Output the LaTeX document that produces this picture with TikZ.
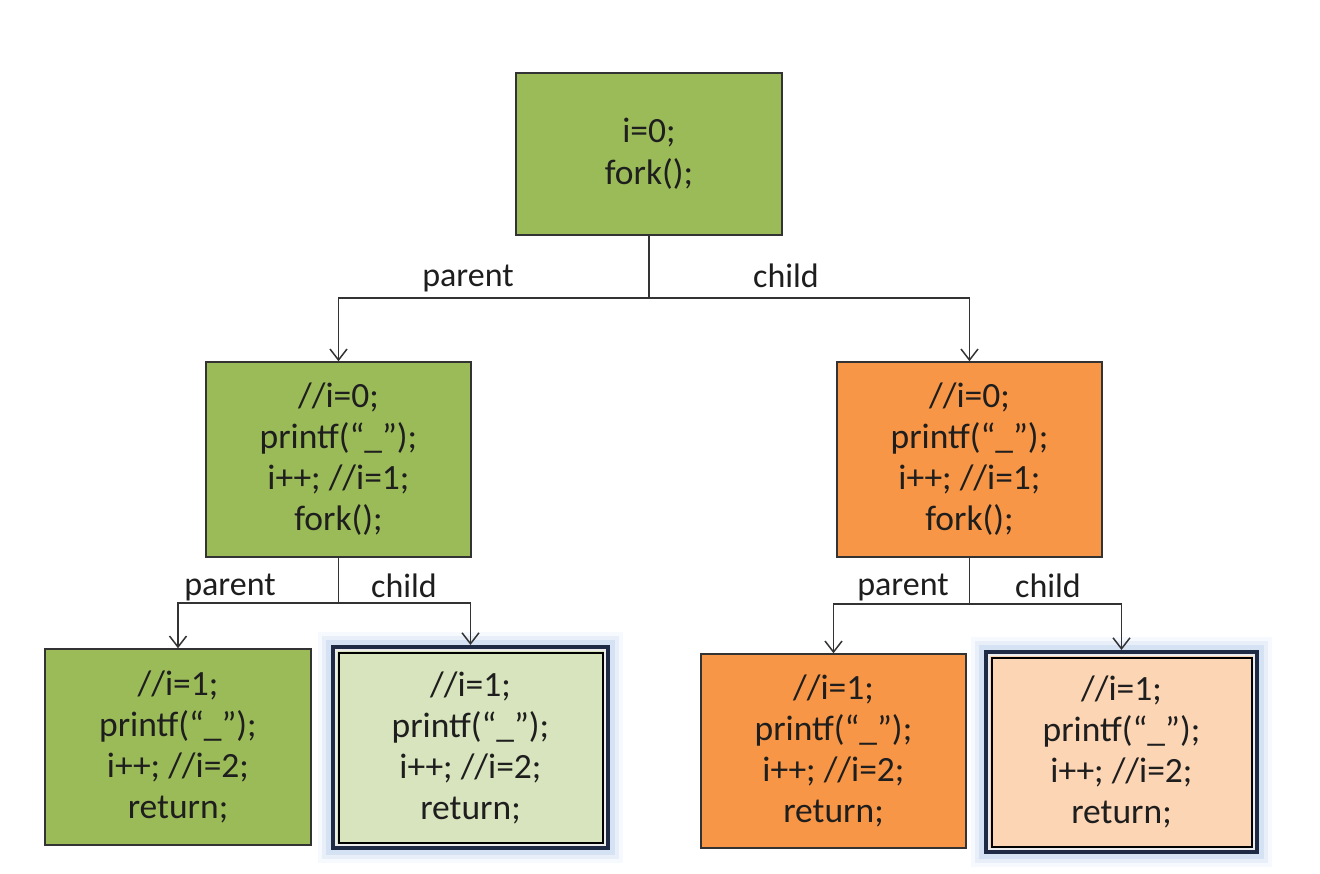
\documentclass[tikz,border=0pt]{standalone}
\usepackage{fontspec}
\setmainfont{Carlito}
\usepackage{tikz}
\usetikzlibrary{arrows.meta}
\usetikzlibrary{positioning}

\definecolor{boxgreen}{HTML}{9BBB59}
\definecolor{boxorange}{HTML}{F79646}
\definecolor{palegreen}{HTML}{D8E4BD}
\definecolor{paleorange}{HTML}{FCD5B5}
\definecolor{glowblue}{HTML}{8EB4E3}
\definecolor{navy}{HTML}{1F2A44}
\definecolor{linegray}{HTML}{333333}
\definecolor{txt}{HTML}{1E1E1E}

\begin{document}
\begin{tikzpicture}[x=1pt,y=-1pt,
  every node/.style={font=\fontsize{35.5}{41}\selectfont,text=txt},
  proc/.style={draw=linegray,line width=1.5pt,align=center,inner sep=0pt,
    minimum width=265pt,minimum height=195pt},
  leaf/.style={proc,
    preaction={draw=glowblue,line width=30pt,opacity=.08},
    preaction={draw=glowblue,line width=22pt,opacity=.14},
    preaction={draw=glowblue,line width=14pt,opacity=.22},
    draw=navy,line width=4pt,
    path picture={
      \draw[white!85!gray,line width=2pt]
        ([shift={(3pt,-3pt)}]path picture bounding box.north west) rectangle
        ([shift={(-3pt,3pt)}]path picture bounding box.south east);
      \draw[black,line width=2pt]
        ([shift={(5.5pt,-5.5pt)}]path picture bounding box.north west) rectangle
        ([shift={(-5.5pt,5.5pt)}]path picture bounding box.south east);
    }},
  branch/.style={draw=linegray,line width=1.5pt},
  forkarrow/.style={branch,-{Straight Barb[length=11pt,width=17pt,line width=1.5pt]}},
  lbl/.style={font=\fontsize{34}{40}\selectfont,text=txt}]

  \useasboundingbox (0,0) rectangle (1320,874);

  % level 0
  \node[proc,fill=boxgreen,minimum width=266pt,minimum height=162pt] (top) at (649,154)
    {i=0;\\[1pt]fork();};

  % level 1
  \node[proc,fill=boxgreen] (midL) at (338.5,459.5)
    {//i=0;\\printf(“\_”);\\i++; //i=1;\\fork();};
  \node[proc,fill=boxorange] (midR) at (969.5,459.5)
    {//i=0;\\printf(“\_”);\\i++; //i=1;\\fork();};

  % level 2, left
  \node[proc,fill=boxgreen,minimum width=266pt,minimum height=196pt] (botLL) at (178,747)
    {//i=1;\\printf(“\_”);\\i++; //i=2;\\return;};
  \node[leaf,fill=palegreen,minimum width=275pt,minimum height=201pt] (botLR) at (470.5,747.5)
    {//i=1;\\printf(“\_”);\\i++; //i=2;\\return;};

  % level 2, right
  \node[proc,fill=boxorange,minimum width=265pt,minimum height=194pt] (botRL) at (833.5,751)
    {//i=1;\\printf(“\_”);\\i++; //i=2;\\return;};
  \node[leaf,fill=paleorange,minimum width=271pt,minimum height=200pt] (botRR) at (1121.5,752)
    {//i=1;\\printf(“\_”);\\i++; //i=2;\\return;};

  % fork points
  \coordinate (f0) at (649,298);
  \coordinate (f1) at (338.5,603);
  \coordinate (f2) at (969.5,604);

  % branches
  \draw[branch] (top) -- (f0);
  \draw[forkarrow] (f0) -| (midL);
  \draw[forkarrow] (f0) -| (midR);

  \draw[branch] (midL) -- (f1);
  \draw[forkarrow] (f1) -| (botLL);
  \draw[forkarrow] (f1) -| (botLR);

  \draw[branch] (midR) -- (f2);
  \draw[forkarrow] (f2) -| (botRL);
  \draw[forkarrow] (f2) -| (botRR);

  % labels
  \node[lbl] (p0) at (468,278) {parent};
  \node[lbl] (c0) at (786,276) {child};
  \node[lbl] (p1) at (230,587) {parent};
  \node[lbl] (c1) at (404,586) {child};
  \node[lbl] (p2) at (903,587) {parent};
  \node[lbl] (c2) at (1048,586) {child};

\end{tikzpicture}
\end{document}
